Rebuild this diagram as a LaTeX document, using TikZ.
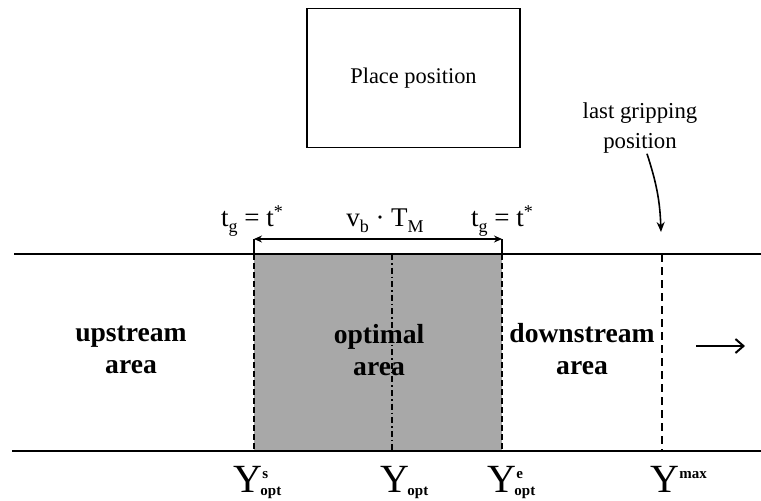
\documentclass[tikz,border=0pt]{standalone}
\usepackage{fontspec}
\setmainfont{Liberation Serif}
\usetikzlibrary{positioning,arrows.meta}
\definecolor{optgray}{HTML}{A8A8A8}
% small indices for the labels
\newcommand{\lo}[1]{\raisebox{-3pt}{\fontsize{9}{10}\selectfont #1}}
\newcommand{\hi}[1]{\raisebox{4.5pt}{\fontsize{9}{10}\selectfont #1}}
\newcommand{\ypos}[2]{Y\rlap{\kern-1pt\raisebox{-1.5pt}{\fontsize{7.5}{8}\selectfont\bfseries #1}}%
  \rlap{\raisebox{7pt}{\fontsize{7.5}{8}\selectfont\bfseries #2}}}

\begin{document}
\begin{tikzpicture}[x=0.5pt,y=-0.5pt,
  placebox/.style={draw, line width=0.9pt, minimum width=106.5pt, minimum height=69.5pt,
                   font=\fontsize{11.2}{14}\selectfont},
  area/.style={align=center, inner sep=0pt, font=\fontsize{13.8}{16}\selectfont\bfseries},
  note/.style={align=center, inner sep=0pt, font=\fontsize{11.4}{15}\selectfont},
  toplab/.style={anchor=base, inner sep=0pt, font=\fontsize{13.5}{16}\selectfont},
  ylab/.style={anchor=base, inner sep=0pt, font=\fontsize{20}{24}\selectfont},
  track/.style={line width=0.85pt},
  edge/.style={line width=0.8pt, dash pattern=on 3pt off 1.5pt},
  mid/.style={line width=0.7pt, dash pattern=on 3pt off 1.5pt on 0.8pt off 1.5pt},
  limit/.style={line width=0.7pt, dash pattern=on 4pt off 2.5pt},
  dimarr/.style={{Stealth[length=4pt,width=3.5pt]}-{Stealth[length=4pt,width=3.5pt]}, line width=0.6pt},
  griparr/.style={-{Stealth[length=5pt,width=4pt]}, line width=0.8pt},
  flow/.style={-{Straight Barb[length=4pt,width=7pt]}, line width=1pt}
]
\useasboundingbox (0,0) rectangle (761,500);

% key points
\coordinate (tl) at (14,254);  \coordinate (tr) at (761,254);
\coordinate (bl) at (12,451);  \coordinate (br) at (761,451);
\coordinate (os) at (254,254); \coordinate (oe) at (502,451);
\coordinate (ds) at (254,239); \coordinate (de) at (502,239);
\coordinate (gripend) at (661,232);

% optimal area
\fill[optgray] (os) rectangle (oe);
\draw[edge] (254,254) -- (254,451);
\draw[edge] (502,254) -- (502,451);
\draw[mid] (392,254) -- (392,451);
\draw[limit] (662,254) -- (662,451);
\draw[line width=0.6pt] (ds) -- (os);
\draw[line width=0.6pt] (de) -- (502,254);

% conveyor
\draw[track] (tl) -- (tr);
\draw[track] (bl) -- (br);

\node[placebox] (place) at (413.5,78) {Place position};

\node[note] (lastgrip) at (640,128) {last gripping\\position};
\draw[griparr] ([xshift=3.5pt]lastgrip.south) to[out=-72,in=92] (gripend);

\draw[dimarr] (ds) -- (de);
\node[toplab] (tgl) at (252,226) {t\lo{g} = t\hi{*}};
\node[toplab] (vbtm) at (385,226) {v\lo{b} · T\lo{M}};
\node[toplab] (tgr) at (502,226) {t\lo{g} = t\hi{*}};

\node[area] (upstream) at (131,350) {upstream\\area};
\node[area] (optimal) at (379,350) {optimal\\area};
\node[area] (downstream) at (582,349) {downstream\\area};

\coordinate (fs) at (696,346); \coordinate (fe) at (745,346);
\draw[flow] (fs) -- (fe);

\node[ylab] (ys) at (248,492) {\ypos{opt}{s}};
\node[ylab] (yopt) at (395,492) {\ypos{opt}{}};
\node[ylab] (ye) at (502,492) {\ypos{opt}{e}};
\node[ylab] (ymax) at (665,492) {\ypos{}{max}};
\end{tikzpicture}
\end{document}
